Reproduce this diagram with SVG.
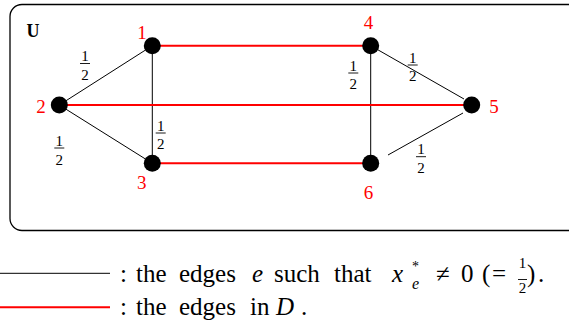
<svg xmlns="http://www.w3.org/2000/svg" width="569" height="321" viewBox="0 0 569 321">
<style>
text{font-family:"Liberation Serif","Times New Roman",serif;}
.lbl{fill:#ff0000;font-size:19px;text-anchor:middle;}
.frac{font-size:15px;text-anchor:middle;fill:#000;}
.bar{stroke:#000;stroke-width:0.9;}
.blk{stroke:#000;stroke-width:1;fill:none;}
.red{stroke:#ff0000;stroke-width:2;fill:none;}
.node{fill:#000;}
.leg{font-size:25px;fill:#000;}
</style>
<rect x="10" y="4.5" width="620" height="226" rx="12" ry="12" fill="none" stroke="#000" stroke-width="1.3"/>
<text x="26.5" y="37.3" font-size="18" font-weight="bold">U</text>
<g id="connectors">
<line class="blk" x1="59.3" y1="105" x2="152.3" y2="45.7"/>
<line class="blk" x1="59.3" y1="105" x2="152.3" y2="163.3"/>
<line class="blk" x1="152.3" y1="45.7" x2="152.3" y2="163.3"/>
<line class="blk" x1="370.7" y1="45.7" x2="370.7" y2="163.3"/>
<line class="blk" x1="370.7" y1="45.7" x2="464" y2="99"/>
<line class="blk" x1="463" y1="113" x2="388" y2="155"/>
<line class="red" x1="152.3" y1="45.7" x2="370.7" y2="45.7"/>
<line class="red" x1="59.3" y1="105" x2="471.7" y2="105"/>
<line class="red" x1="152.3" y1="163.3" x2="370.7" y2="163.3"/>
<g id="w21"><text class="frac" x="85" y="61">1</text><line class="bar" x1="80" y1="63.5" x2="90" y2="63.5"/><text class="frac" x="85" y="80">2</text></g>
<g id="w23"><text class="frac" x="59.3" y="145.5">1</text><line class="bar" x1="54.3" y1="148" x2="64.3" y2="148"/><text class="frac" x="59.3" y="164.5">2</text></g>
<g id="w13"><text class="frac" x="160.7" y="130.5">1</text><line class="bar" x1="155.7" y1="133" x2="165.7" y2="133"/><text class="frac" x="160.7" y="149">2</text></g>
<g id="w46"><text class="frac" x="353.3" y="70.5">1</text><line class="bar" x1="348.3" y1="73" x2="358.3" y2="73"/><text class="frac" x="353.3" y="89">2</text></g>
<g id="w45"><text class="frac" x="412.7" y="62.5">1</text><line class="bar" x1="407.7" y1="65" x2="417.7" y2="65"/><text class="frac" x="412.7" y="81">2</text></g>
<g id="w56"><text class="frac" x="421" y="154.2">1</text><line class="bar" x1="416" y1="156.7" x2="426" y2="156.7"/><text class="frac" x="421" y="172.7">2</text></g>
</g>
<g id="n1"><circle class="node" cx="152.3" cy="45.7" r="8.5"/><text class="lbl" x="142" y="39">1</text></g>
<g id="n2"><circle class="node" cx="59.3" cy="105" r="8.5"/><text class="lbl" x="41" y="113">2</text></g>
<g id="n3"><circle class="node" cx="152.3" cy="163.3" r="8.5"/><text class="lbl" x="141.7" y="189">3</text></g>
<g id="n4"><circle class="node" cx="370.7" cy="45.7" r="8.5"/><text class="lbl" x="368.5" y="29.3">4</text></g>
<g id="n5"><circle class="node" cx="471.7" cy="105" r="8.5"/><text class="lbl" x="494" y="113">5</text></g>
<g id="n6"><circle class="node" cx="370.7" cy="163.3" r="8.5"/><text class="lbl" x="368.5" y="199">6</text></g>
<g id="legend">
<line x1="0" y1="273.3" x2="110" y2="273.3" stroke="#000" stroke-width="1"/>
<line x1="0" y1="307.3" x2="110" y2="307.3" stroke="#ff0000" stroke-width="2"/>
<text class="leg" y="282"><tspan x="120">:</tspan><tspan x="136">the</tspan><tspan x="179">edges</tspan><tspan x="252" font-style="italic">e</tspan><tspan x="274">such</tspan><tspan x="334">that</tspan><tspan x="392" font-style="italic">x</tspan></text>
<text x="412" y="271" font-size="14">*</text>
<text x="412" y="289" font-size="16" font-style="italic">e</text>
<text class="leg" y="282"><tspan x="436">≠</tspan><tspan x="461">0</tspan><tspan x="482">(</tspan><tspan x="492">=</tspan><tspan x="527">)</tspan><tspan x="538">.</tspan></text>
<text x="522.5" y="268" font-size="15" text-anchor="middle">1</text>
<line class="bar" x1="518" y1="279.5" x2="527" y2="279.5"/>
<text x="522.5" y="293" font-size="15" text-anchor="middle">2</text>
<text class="leg" y="315"><tspan x="120">:</tspan><tspan x="136">the</tspan><tspan x="179">edges</tspan><tspan x="250">in</tspan><tspan x="276" font-style="italic">D</tspan><tspan x="301">.</tspan></text>
</g>
</svg>
